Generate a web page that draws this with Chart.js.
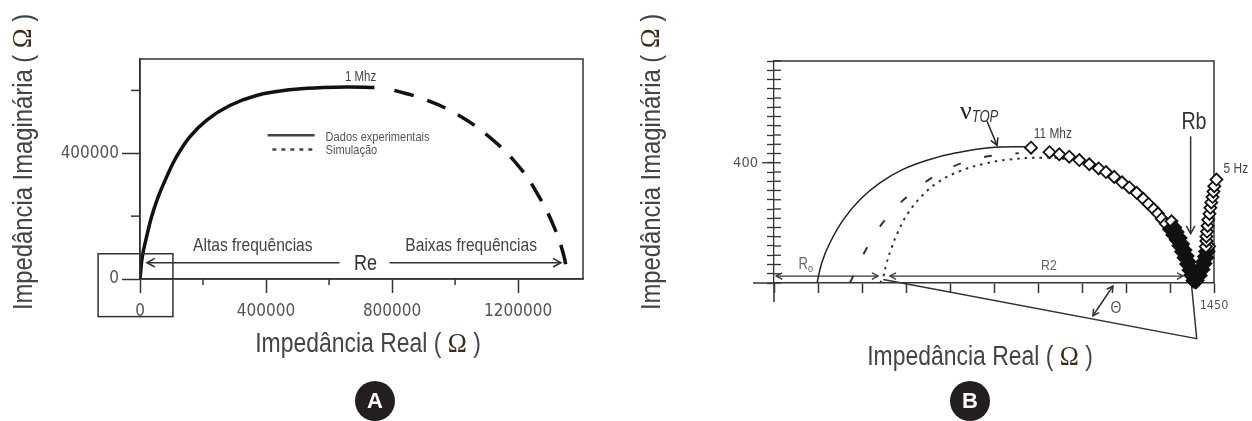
<!DOCTYPE html>
<html>
<head>
<meta charset="utf-8">
<script src="https://cdn.jsdelivr.net/npm/chart.js@4/dist/chart.umd.min.js"></script>
<style>
  html, body { margin: 0; padding: 0; background: #fff; }
  #wrap { position: relative; width: 1252px; height: 421px; }
  .panel { position: absolute; top: 0; width: 626px; height: 421px; }
</style>
</head>
<body>
<div id="wrap">
  <div class="panel" style="left:0"><canvas id="chartA"></canvas></div>
  <div class="panel" style="left:626px"><canvas id="chartB"></canvas></div>
</div>
<script>
// Panel A: Nyquist plot, values in ohm
const aExpRe = [0, 7300, 21000, 37000, 58000, 84500, 116000, 158000, 211000, 285000, 370000, 475000, 580000, 660000, 744000]
const aExpIm = [0, 71000, 135000, 199000, 262000, 325000, 389000, 452000, 505000, 552000, 584000, 602000, 609000, 611000, 609000]
const aSimRe = [807500, 897000, 1003000, 1108500, 1203500, 1267000, 1314000, 1346000, 1356000]
const aSimIm = [600000, 574000, 526000, 452000, 357000, 261000, 166000, 71000, 6000]
const aXTicks = [0, 200000, 400000, 600000, 800000, 1000000, 1200000]
const aYTicks = [0, 200000, 400000, 600000]
const aXLabeled = [0, 400000, 800000, 1200000]
const aYLabeled = [0, 400000]

// Panel B: fit arc, two simulations and measured points (diamonds)
const bFitRe = [142, 157, 184, 228, 283, 349, 425, 513, 601, 710, 820, 847]
const bFitIm = [0, 66, 133, 210, 277, 333, 378, 411, 433, 450, 453, 450]
const bDashRe = [250, 310, 376, 467, 570, 683, 807]
const bDashIm = [0, 124, 222, 311, 378, 417, 432]
const bDotRe = [349, 359, 371, 387, 409, 442, 486, 540, 612, 694, 776, 886, 960, 1050, 1150, 1250, 1320, 1360, 1380]
const bDotIm = [0, 16, 66, 116, 171, 233, 288, 335, 372, 397, 411, 417, 412, 385, 330, 245, 150, 75, 10]
const bDataRe = [847, 908, 940, 973, 1006, 1039, 1070, 1094, 1121, 1147, 1171, 1195, 1217, 1234, 1251, 1265, 1278, 1291, 1302, 1313, 1324, 1333, 1342, 1350, 1358, 1366, 1372, 1379,
  1310, 1322, 1330, 1340, 1348, 1356, 1363, 1370, 1376, 1382, 1386, 1390,
  1396, 1406, 1415, 1422, 1428, 1432, 1434,
  1384, 1392, 1399, 1405, 1412, 1417, 1421, 1423, 1425, 1425, 1427, 1429, 1431, 1435, 1438, 1441, 1445, 1448, 1451, 1458]
const bDataIm = [450, 435, 428, 420, 409, 395, 381, 369, 353, 335, 318, 300, 280, 263, 246, 231, 214, 197, 179, 160, 144, 124, 104, 84, 63, 43, 26, 8,
  205, 185, 170, 150, 130, 110, 90, 70, 50, 30, 14, 2,
  8, 25, 45, 65, 85, 105, 122,
  4, 21, 38, 54, 71, 88, 105, 121, 140, 155, 171, 190, 210, 230, 250, 268, 286, 304, 322, 344]
const bXTicks = [0, 145, 290, 435, 580, 725, 870, 1015, 1160, 1305, 1450]
const bXLabeled = [1450]
const bYLabeled = [400]
const bYStep = 400 / 13

const TICKFONT = "'DejaVu Sans Condensed', 'Liberation Sans', sans-serif"
const SANS = "'Liberation Sans', Arial, sans-serif"
const SERIF = "'Liberation Serif', 'DejaVu Serif', serif"
const NARROW = 0.82   // horizontal squeeze to get an Arial Narrow look
const AXIS = '#333'

function pts(xs, ys) {
  return xs.map((x, i) => ({ x: x, y: ys[i] }))
}

// small drawing helpers used by the annotation plugins
function toPx(chart, x, y) {
  return [chart.scales.x.getPixelForValue(x), chart.scales.y.getPixelForValue(y)]
}
function strokePath(ctx, list, color, width, dash) {
  ctx.save()
  ctx.strokeStyle = color
  ctx.lineWidth = width
  ctx.setLineDash(dash || [])
  ctx.beginPath()
  list.forEach((p, i) => i ? ctx.lineTo(p[0], p[1]) : ctx.moveTo(p[0], p[1]))
  ctx.stroke()
  ctx.restore()
}
function arrowHead(ctx, tip, from, size, color, width) {
  const a = Math.atan2(tip[1] - from[1], tip[0] - from[0])
  const l = [tip[0] - size * Math.cos(a - 0.5), tip[1] - size * Math.sin(a - 0.5)]
  const r = [tip[0] - size * Math.cos(a + 0.5), tip[1] - size * Math.sin(a + 0.5)]
  strokePath(ctx, [l, tip, r], color, width)
}
function arrow(ctx, a, b, size, color, width, both) {
  strokePath(ctx, [a, b], color, width)
  arrowHead(ctx, b, a, size, color, width)
  if (both) arrowHead(ctx, a, b, size, color, width)
}
// parts: {t, font, color, sx, dy}
function mixedText(ctx, parts, cx, cy, rot) {
  ctx.save()
  ctx.translate(cx, cy)
  ctx.rotate(rot || 0)
  ctx.textBaseline = 'middle'
  ctx.textAlign = 'left'
  const widths = parts.map(p => { ctx.font = p.font; return ctx.measureText(p.t).width * (p.sx || 1) })
  let x = -widths.reduce((s, w) => s + w, 0) / 2
  parts.forEach((p, i) => {
    ctx.save()
    ctx.translate(x, p.dy || 0)
    ctx.scale(p.sx || 1, 1)
    ctx.font = p.font
    ctx.fillStyle = p.color
    ctx.fillText(p.t, 0, 0)
    ctx.restore()
    x += widths[i]
  })
  ctx.restore()
}
function label(ctx, text, x, y, size, color, align) {
  ctx.save()
  ctx.translate(x, y)
  ctx.scale(NARROW, 1)
  ctx.font = size + 'px ' + SANS
  ctx.fillStyle = color
  ctx.textAlign = align || 'center'
  ctx.textBaseline = 'middle'
  ctx.fillText(text, 0, 0)
  ctx.restore()
}
function badge(ctx, letter, x, y) {
  ctx.save()
  ctx.fillStyle = '#231f20'
  ctx.beginPath()
  ctx.arc(x, y, 20, 0, Math.PI * 2)
  ctx.fill()
  ctx.font = "bold 22px " + SANS
  ctx.fillStyle = '#fff'
  ctx.textAlign = 'center'
  ctx.textBaseline = 'middle'
  ctx.fillText(letter, x, y + 1)
  ctx.restore()
}
function titleParts(text, size) {
  return [
    { t: text + ' ( ', font: size + 'px ' + SANS, color: '#444', sx: 0.85 },
    { t: 'Ω', font: size + 'px ' + SERIF, color: '#3d2b14', sx: 0.95 },
    { t: ' )', font: size + 'px ' + SANS, color: '#444', sx: 0.85 }
  ]
}
// short minor ticks drawn beside the library's major ones
function minorTicks(chart, axis, len) {
  const ctx = chart.ctx
  const area = chart.chartArea
  const s = chart.scales[axis]
  const labeled = axis === 'x' ? aXLabeled : aYLabeled
  s.ticks.filter(t => !labeled.includes(t.value)).forEach(t => {
    const p = s.getPixelForValue(t.value)
    if (axis === 'x') strokePath(ctx, [[p, area.bottom], [p, area.bottom + len]], AXIS, 1.5)
    else strokePath(ctx, [[area.left - len, p], [area.left, p]], AXIS, 1.5)
  })
}

const panelA = {
  id: 'panelA',
  afterDatasetsDraw(chart) {
    const ctx = chart.ctx
    const area = chart.chartArea
    // frame
    ctx.save()
    ctx.strokeStyle = AXIS
    ctx.lineWidth = 1.5
    ctx.strokeRect(area.left, area.top, area.right - area.left, area.bottom - area.top)
    ctx.restore()
    minorTicks(chart, 'x', 6)
    minorTicks(chart, 'y', 9)

    // small box around the origin
    const b1 = toPx(chart, -133000, 80300)
    const b2 = toPx(chart, 104500, -119700)
    ctx.save()
    ctx.strokeStyle = AXIS
    ctx.lineWidth = 1.5
    ctx.strokeRect(b1[0], b1[1], b2[0] - b1[0], b2[1] - b1[1])
    ctx.restore()

    // Re arrows
    arrow(ctx, toPx(chart, 633000, 51750), toPx(chart, 22000, 51750), 9, '#333', 1.6)
    arrow(ctx, toPx(chart, 792000, 51750), toPx(chart, 1336000, 51750), 9, '#333', 1.6)
    let p = toPx(chart, 716000, 51750)
    label(ctx, 'Re', p[0], p[1] + 1, 22, '#333')
    p = toPx(chart, 358000, 106000)
    label(ctx, 'Altas frequências', p[0], p[1], 19, '#444')
    p = toPx(chart, 1051000, 106000)
    label(ctx, 'Baixas frequências', p[0], p[1], 19, '#444')
    p = toPx(chart, 700000, 642000)
    label(ctx, '1 Mhz', p[0], p[1], 14, '#444')

    // legend
    strokePath(ctx, [toPx(chart, 405000, 457000), toPx(chart, 554000, 457000)], '#444', 2.5)
    strokePath(ctx, [toPx(chart, 420000, 412000), toPx(chart, 554000, 412000)], '#444', 2.5, [4, 5])
    p = toPx(chart, 589000, 452000)
    label(ctx, 'Dados experimentais', p[0], p[1], 13.5, '#555', 'left')
    p = toPx(chart, 589000, 411000)
    label(ctx, 'Simulação', p[0], p[1], 13.5, '#555', 'left')

    // axis titles and panel letter
    mixedText(ctx, titleParts('Impedância Real', 27), area.left + 228, area.bottom + 66, 0)
    mixedText(ctx, titleParts('Impedância Imaginária', 28), 24, area.top + 103, -Math.PI / 2)
    badge(ctx, 'A', area.left + 235, 401)
  }
}

const panelB = {
  id: 'panelB',
  beforeDatasetsDraw(chart) {
    const ctx = chart.ctx
    const area = chart.chartArea
    // top and right sides of the frame
    strokePath(ctx, [[area.left, area.top], [area.right, area.top], [area.right, area.bottom]], AXIS, 1.5)
    // axis line continues left of the box, y axis continues below
    strokePath(ctx, [toPx(chart, -69, 0), toPx(chart, 0, 0)], AXIS, 1.5)
    strokePath(ctx, [toPx(chart, 0, 0), toPx(chart, 0, -63)], AXIS, 1.5)
    // y ticks cross the axis: inner half
    chart.scales.y.ticks.forEach(t => {
      const y = chart.scales.y.getPixelForValue(t.value)
      const out = bYLabeled.some(v => Math.abs(v - t.value) < 0.01) ? 12 : 0
      strokePath(ctx, [[area.left - out, y], [area.left + 7, y]], AXIS, 1.3)
    })
    // R0 and R2 arrows
    arrow(ctx, toPx(chart, 7, 23), toPx(chart, 343, 23), 7, '#333', 1.3, true)
    arrow(ctx, toPx(chart, 382, 23), toPx(chart, 1348, 23), 7, '#333', 1.3, true)
    // triangle for the depression angle
    strokePath(ctx, [toPx(chart, 360, 12), toPx(chart, 1393, -185), toPx(chart, 1376, -7)], '#333', 1.5)
    arrow(ctx, toPx(chart, 1117, -10), toPx(chart, 1051, -109), 7, '#333', 1.5, true)
  },
  afterDatasetsDraw(chart) {
    const ctx = chart.ctx
    const area = chart.chartArea
    let p = toPx(chart, 105, 60)
    mixedText(ctx, [
      { t: 'R', font: '16px ' + SANS, color: '#666', sx: NARROW },
      { t: 'o', font: '11px ' + SANS, color: '#666', sx: NARROW, dy: 4 }
    ], p[0], p[1], 0)
    p = toPx(chart, 906, 57)
    label(ctx, 'R2', p[0], p[1], 15, '#666')
    p = toPx(chart, 1127, -84)
    label(ctx, 'Θ', p[0], p[1], 17, '#555')

    // Rb arrow and label
    arrow(ctx, toPx(chart, 1373, 488), toPx(chart, 1373, 164), 9, '#333', 1.5)
    p = toPx(chart, 1384, 535)
    label(ctx, 'Rb', p[0], p[1], 24, '#333')

    // nu TOP marker
    arrow(ctx, toPx(chart, 702, 538), toPx(chart, 735, 458), 8, '#222', 1.5)
    p = toPx(chart, 676, 568)
    mixedText(ctx, [
      { t: 'ν', font: '26px ' + SERIF, color: '#222' },
      { t: 'TOP', font: 'italic 16px ' + SANS, color: '#333', sx: NARROW, dy: 5 }
    ], p[0], p[1], 0)

    p = toPx(chart, 919, 494)
    label(ctx, '11 Mhz', p[0], p[1], 14.5, '#444')
    p = toPx(chart, 1522, 378)
    label(ctx, '5 Hz', p[0], p[1], 14.5, '#444')

    mixedText(ctx, titleParts('Impedância Real', 27), area.left + 206, area.bottom + 75, 0)
    mixedText(ctx, titleParts('Impedância Imaginária', 28), 26, area.top + 101, -Math.PI / 2)
    badge(ctx, 'B', area.left + 196, 401)
  }
}

const tickFont = (size) => ({ family: TICKFONT, size: size })
const setTicks = (list) => (s) => { s.ticks = list.map(v => ({ value: v })) }

new Chart(document.getElementById('chartA'), {
  type: 'scatter',
  data: {
    datasets: [
      { label: 'Dados experimentais', data: pts(aExpRe, aExpIm), showLine: true, borderColor: '#111', borderWidth: 3.5, pointRadius: 0, tension: 0.4 },
      { label: 'Simulação', data: pts(aSimRe, aSimIm), showLine: true, borderColor: '#111', borderWidth: 3.5, borderDash: [20, 14], pointRadius: 0, tension: 0.4 }
    ]
  },
  options: {
    responsive: true,
    maintainAspectRatio: false,
    animation: false,
    layout: { padding: { top: 59, right: 43, left: 0, bottom: 0 } },
    plugins: { legend: { display: false }, tooltip: { enabled: false } },
    scales: {
      x: {
        type: 'linear', min: 0, max: 1406000,
        border: { color: AXIS, width: 1.5 },
        grid: { drawOnChartArea: false, tickLength: 14, tickWidth: 1.5,
          tickColor: c => aXLabeled.includes(c.tick.value) ? AXIS : 'rgba(0,0,0,0)' },
        afterBuildTicks: setTicks(aXTicks),
        ticks: { autoSkip: false, maxRotation: 0, padding: 8, color: '#555', font: tickFont(17),
          callback: v => aXLabeled.includes(v) ? String(v) : '' },
        afterFit: s => { s.height = 142 }
      },
      y: {
        type: 'linear', min: 0, max: 700000,
        border: { color: AXIS, width: 1.5 },
        grid: { drawOnChartArea: false, tickLength: 18, tickWidth: 1.5,
          tickColor: c => aYLabeled.includes(c.tick.value) ? AXIS : 'rgba(0,0,0,0)' },
        afterBuildTicks: setTicks(aYTicks),
        ticks: { autoSkip: false, padding: 3, color: '#555', font: tickFont(17),
          callback: v => aYLabeled.includes(v) ? String(v) : '' },
        afterFit: s => { s.width = 140 }
      }
    }
  },
  plugins: [panelA]
})

new Chart(document.getElementById('chartB'), {
  type: 'scatter',
  data: {
    datasets: [
      { label: 'Dados', data: pts(bDataRe, bDataIm), showLine: false, pointStyle: 'rectRot', pointRadius: 6,
        pointBorderWidth: 1.8, pointBorderColor: '#111', clip: false,
        // where the points pile up near Rb they merge into a black band
        pointBackgroundColor: c => (c.raw && c.raw.y < (c.raw.x > 1381 ? 120 : 190)) ? '#111' : '#fff' },
      { label: 'Ajuste', data: pts(bFitRe, bFitIm), showLine: true, borderColor: '#222', borderWidth: 1.5, pointRadius: 0, tension: 0.4 },
      { label: 'Simulação 1', data: pts(bDashRe, bDashIm), showLine: true, borderColor: '#333', borderWidth: 2, borderDash: [8, 24], pointRadius: 0, tension: 0.4 },
      { label: 'Simulação 2', data: pts(bDotRe, bDotIm), showLine: true, borderColor: '#333', borderWidth: 2, borderDash: [2.5, 5], pointRadius: 0, tension: 0.4 }
    ]
  },
  options: {
    responsive: true,
    maintainAspectRatio: false,
    animation: false,
    layout: { padding: { top: 61, right: 38, left: 0, bottom: 0 } },
    plugins: { legend: { display: false }, tooltip: { enabled: false } },
    scales: {
      x: {
        type: 'linear', min: 0, max: 1450,
        border: { color: AXIS, width: 1.5 },
        grid: { drawOnChartArea: false, tickLength: 10, tickWidth: 1.5, tickColor: AXIS },
        afterBuildTicks: setTicks(bXTicks),
        ticks: { autoSkip: false, maxRotation: 0, padding: 5, color: '#555', font: tickFont(12.5),
          callback: v => bXLabeled.includes(v) ? String(v) : '' },
        afterFit: s => { s.height = 138 }
      },
      y: {
        type: 'linear', min: 0, max: 24 * bYStep,
        border: { color: AXIS, width: 1.3 },
        grid: { drawOnChartArea: false, tickLength: 7, tickWidth: 1.3, tickColor: AXIS },
        afterBuildTicks: s => {
          s.ticks = Array.from({ length: 25 }, (_, i) => ({ value: i * bYStep }))
        },
        ticks: { autoSkip: false, padding: 9, color: '#555', font: tickFont(14.5),
          callback: v => bYLabeled.some(l => Math.abs(l - v) < 0.01) ? '400' : '' },
        afterFit: s => { s.width = 148 }
      }
    }
  },
  plugins: [panelB]
})
</script>
</body>
</html>
